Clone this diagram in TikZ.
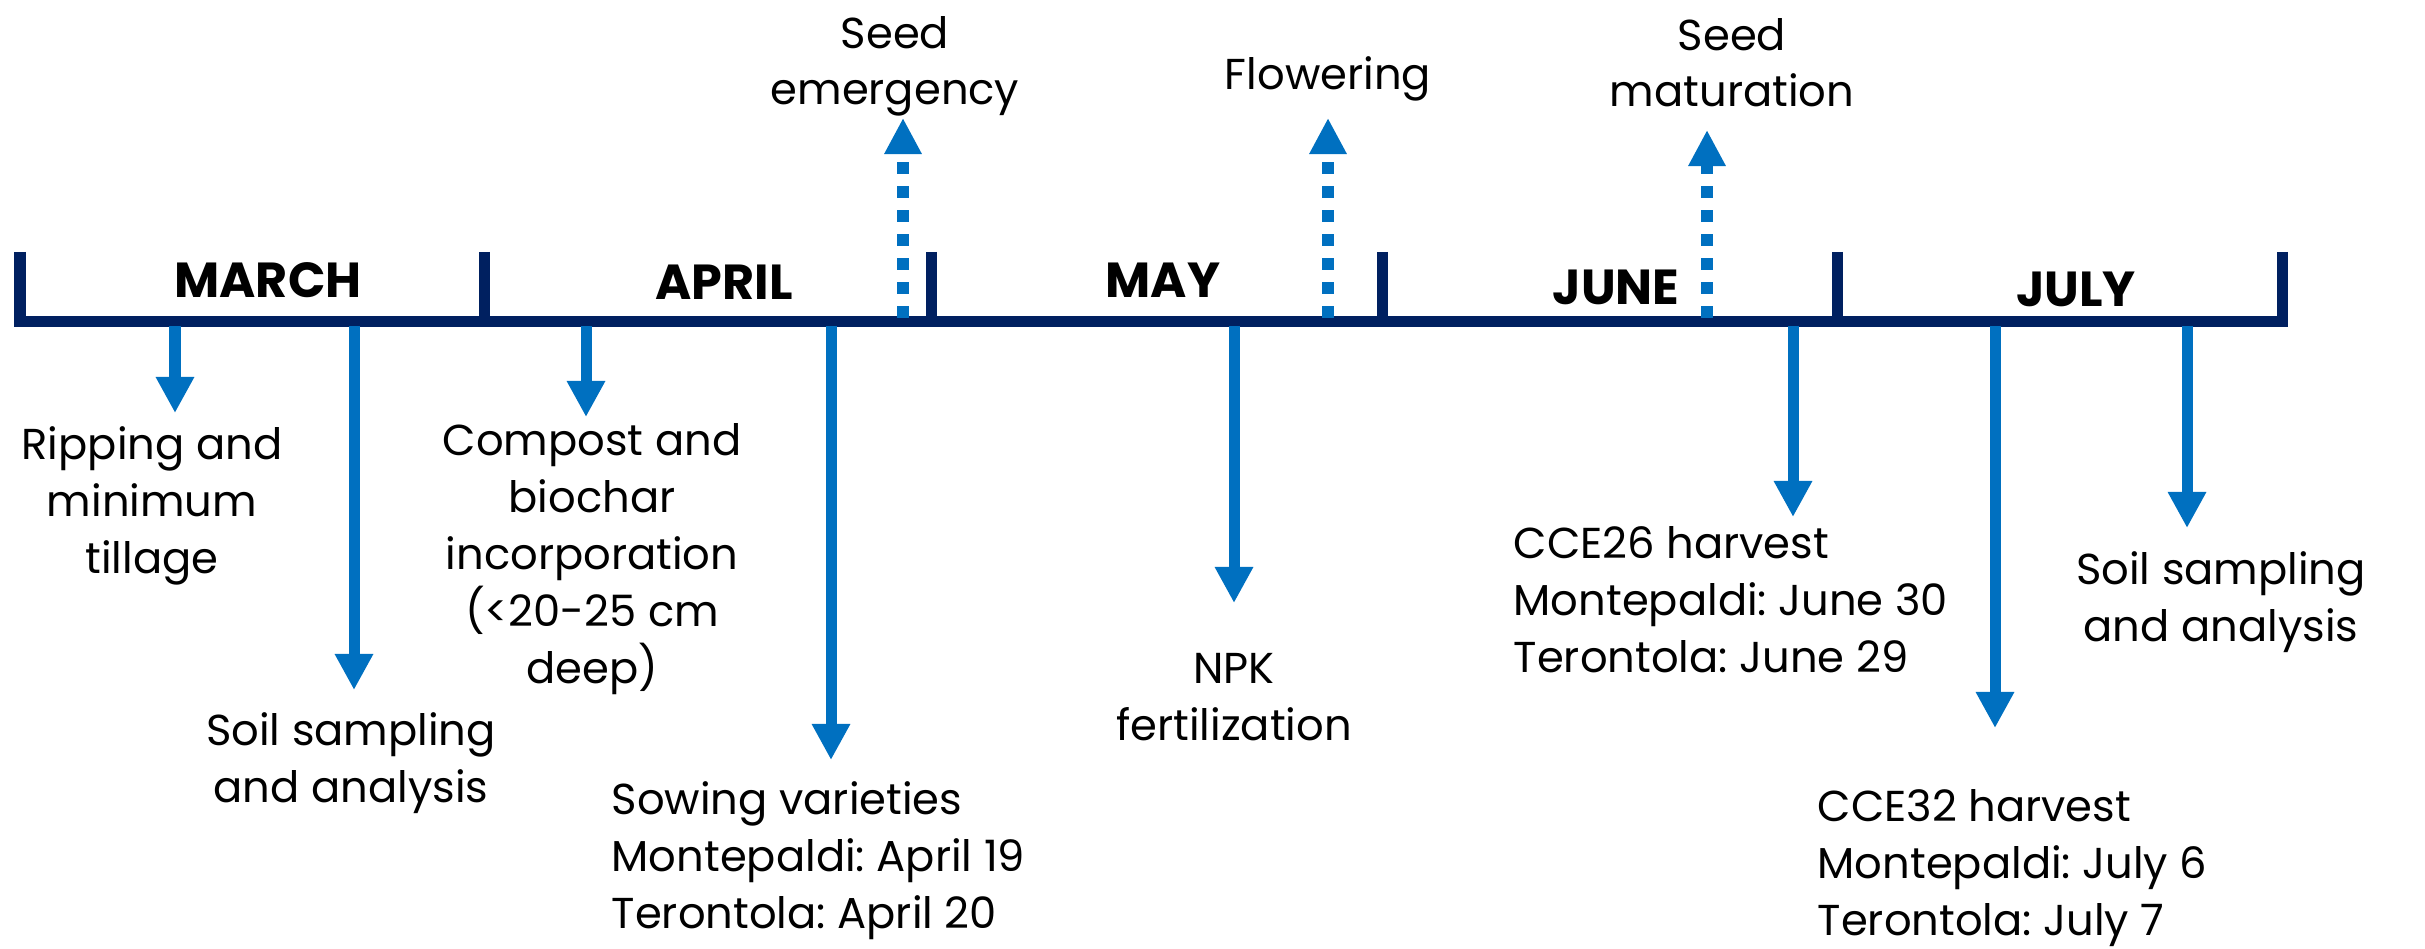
\documentclass[tikz,border=0pt]{standalone}
\usepackage{fontspec}
\setmainfont{Poppins}
\usetikzlibrary{arrows.meta}
\definecolor{navy}{HTML}{002060}
\definecolor{evblue}{HTML}{0070C0}
\frenchspacing
\begin{document}
\begin{tikzpicture}[x=0.01cm,y=-0.01cm,
  lbl/.style={font=\fontsize{12.3}{16.2}\selectfont, inner sep=0pt, align=center, anchor=base},
  lbll/.style={lbl, align=left, anchor=base west},
  month/.style={font=\fontsize{14}{16}\selectfont\bfseries, inner sep=0pt, anchor=base},
  tline/.style={draw=navy, line width=0.11cm},
  evarrow/.style={draw=evblue, line width=0.11cm, -{Triangle[length=0.36cm,width=0.36cm]}},
  dotarrow/.style={draw=evblue, line width=0.12cm, dash pattern=on 0.12cm off 0.12cm, -{Triangle[length=0.36cm,width=0.35cm]}}
]
\useasboundingbox (0,0) rectangle (2425,949);
\fill[white] (0,0) rectangle (2425,949);

% timeline
\coordinate (L) at (20,321.5);
\coordinate (R) at (2282,321.5);
\draw[tline] (L) -- (R);
\foreach \n/\x in {t0/20,t1/484,t2/931,t3/1382,t4/1837,t5/2282}{
  \coordinate (\n top) at (\x,252);
  \coordinate (\n bot) at (\x,327);
  \draw[tline] (\n top) -- (\n bot);
}

% months
\node[month] (mar) at (268,298) {MARCH};
\node[month] (apr) at (724,300) {APRIL};
\node[month] (may) at (1163,298) {MAY};
\node[month] (jun) at (1616,305) {JUNE};
\node[month] (jul) at (2076,307) {JULY};

% upper events (y = baseline of last line)
\node[lbl] (emer) at (895,105) {Seed\\emergency};
\node[lbl] (flow) at (1328,90) {Flowering};
\node[lbl] (matu) at (1732,107) {Seed\\maturation};

\coordinate (d1s) at (903,318); \coordinate (d1e) at (903,118);
\coordinate (d2s) at (1328,318); \coordinate (d2e) at (1328,118);
\coordinate (d3s) at (1707,318); \coordinate (d3e) at (1707,130);
\draw[dotarrow] (d1s) -- (d1e);
\draw[dotarrow] (d2s) -- (d2e);
\draw[dotarrow] (d3s) -- (d3e);

% lower events (y = baseline of last line)
\node[lbl] (rip) at (152,573) {Ripping and\\minimum\\tillage};
\node[lbl] (soila) at (351,802) {Soil sampling\\and analysis};
\node[lbl] (comp) at (592,683) {Compost and\\biochar\\incorporation\\(<20-25 cm\\deep)};
\node[lbll] (sow) at (611,928) {Sowing varieties\\Montepaldi: April 19\\Terontola: April 20};
\node[lbl] (npk) at (1234,740) {NPK\\fertilization};
\node[lbll] (cca) at (1513,672) {CCE26 harvest\\Montepaldi: June 30\\Terontola: June 29};
\node[lbll] (ccb) at (1817,935) {CCE32 harvest\\Montepaldi: July 6\\Terontola: July 7};
\node[lbl] (soilb) at (2221,641) {Soil sampling\\and analysis};

\foreach \n/\x/\y in {a1/175/413,a2/354/690,a3/586/417,a4/831/760,a5/1234/603,a6/1793/517,a7/1995/728,a8/2187/528}{
  \coordinate (\n s) at (\x,326);
  \coordinate (\n e) at (\x,\y);
  \draw[evarrow] (\n s) -- (\n e);
}
\end{tikzpicture}
\end{document}
